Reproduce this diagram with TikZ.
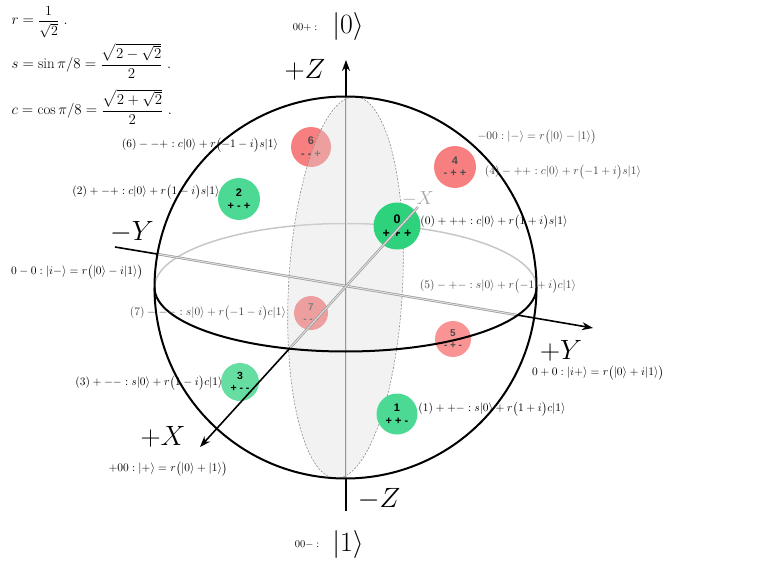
\RequirePackage{fix-cm}
\documentclass[tikz,border=0pt]{standalone}
\usepackage{amsmath}
\usepackage{fontspec}
\newfontfamily\markfont{Liberation Sans}
\usetikzlibrary{arrows.meta}
\usetikzlibrary{calc}

\definecolor{stGreenA}{RGB}{46,209,124}
\definecolor{stGreenB}{RGB}{76,217,148}
\definecolor{stGreenC}{RGB}{102,222,162}
\definecolor{stRedA}{RGB}{248,127,127}
\definecolor{stRedB}{RGB}{250,148,148}

\begin{document}
\begin{tikzpicture}[
        x=1bp, y=-1bp,
        state/.style={circle, inner sep=0, align=center},
        axisline/.style={line width=1.6bp, black},
        inaxis/.style={draw=black!40, double=black!12, double distance=1bp, line width=0.7bp},
        sphere/.style={line width=2bp, black},
        eqlabel/.style={font=\fontsize{11.5}{13}\selectfont, inner sep=1bp},
        axislabel/.style={font=\fontsize{28}{30}\selectfont, inner sep=0},
        >={Stealth[length=11bp, width=8bp]}
    ]
        \useasboundingbox (0,0) rectangle (765,572);

        % 球心与坐标轴端点
        \coordinate (O) at (345.5,287.5);
        \coordinate (Ztip) at (346,60);
        \coordinate (Ztop) at (346,96.5);
        \coordinate (Zbot) at (346,478.5);
        \coordinate (Zend) at (346,511);
        \coordinate (Yend) at (115,247);
        \coordinate (Yin) at (157,254);
        \coordinate (Yout) at (517,315);
        \coordinate (Ytip) at (593,328);
        \coordinate (Xback) at (418,207);
        \coordinate (Xout) at (290,348);
        \coordinate (Xtip) at (200,447);

        % 赤道后半圈
        \draw[black!22, line width=1.5bp] ($(O)+(-191,0)$) arc[start angle=180, end angle=360, x radius=191, y radius=64];

        % 定义态 (编号/x/y/半径/颜色/文字颜色/字号/符号)
        \def\backstates{
            6/311/147/20/stRedA/black!70/11/- - +,
            7/311/313/17/stRedA/black!70/10/- - -
        }
        \def\frontstates{
            0/397/226/23.5/stGreenA/black/12.5/+ + +,
            2/239/199/21/stGreenB/black/11/+ - +,
            4/455/167/21/stRedA/black!70/11/- + +,
            1/397/414/20.5/stGreenB/black/11/+ + -,
            3/240/382/19/stGreenC/black/10.5/+ - -,
            5/453/339/18/stRedB/black!70/10/- + -
        }

        % 后方的态
        \foreach \n/\x/\y/\r/\col/\tcol/\fs/\sg in \backstates {
            \node[state, fill=\col, text=\tcol, minimum size={2*\r*1bp},
                font=\markfont\bfseries\fontsize{\fs}{\fs}\selectfont] (s\n) at (\x,\y) {\n\\[1.5bp]\sg};
        }

        % XZ 平面(半透明)
        \fill[black!14, fill opacity=0.35, rotate around={-3:(O)}] (O) ellipse[x radius=57, y radius=191];
        \draw[black!45, line width=0.6bp, dash pattern=on 2bp off 1.5bp, rotate around={-3:(O)}] (O) ellipse[x radius=57, y radius=191];

        % 前方的态
        \foreach \n/\x/\y/\r/\col/\tcol/\fs/\sg in \frontstates {
            \node[state, fill=\col, text=\tcol, minimum size={2*\r*1bp},
                font=\markfont\bfseries\fontsize{\fs}{\fs}\selectfont] (s\n) at (\x,\y) {\n\\[1.5bp]\sg};
        }

        % 坐标轴
        \draw[inaxis] (Ztop) -- (Zbot);
        \draw[inaxis] (Yin) -- (Yout);
        \draw[inaxis] (Xback) -- (Xout);
        \draw[axisline, ->] (Ztop) -- (Ztip);
        \draw[axisline] (Zbot) -- (Zend);
        \draw[axisline] (Yend) -- (Yin);
        \draw[axisline, ->] (Yout) -- (Ytip);
        \draw[axisline, ->] (Xout) -- (Xtip);

        % 赤道前半圈与球面
        \draw[sphere] ($(O)+(191,0)$) arc[start angle=0, end angle=180, x radius=191, y radius=64];
        \draw[sphere] (O) circle[radius=191];

        % 轴标签
        \node[axislabel] (lZp) at (305,70) {$+Z$};
        \node[axislabel] (lZm) at (379,499) {$-Z$};
        \node[axislabel] (lYm) at (132,232) {$-Y$};
        \node[axislabel] (lYp) at (561,351) {$+Y$};
        \node[axislabel] (lXp) at (163,437) {$+X$};
        \node[font=\fontsize{19}{21}\selectfont, text=black!35, inner sep=0] (lXm) at (418,199) {$-X$};
        \node[axislabel] (ket0) at (348,27) {$|0\rangle$};
        \node[axislabel] (ket1) at (348,545) {$|1\rangle$};
        \node[font=\fontsize{10.5}{12}\selectfont] (k0) at (305,28) {$00+:$};
        \node[font=\fontsize{10.5}{12}\selectfont] (k1) at (307,545) {$00-:$};

        % 各态的表达式
        \foreach \nm/\x/\y/\tcol/\txt in {
            L6/200/145/black/{$(6) - -+ : c|0\rangle + r\bigl(-1 - i\bigr)s|1\rangle$},
            L2/146/192/black/{$(2) + -+ : c|0\rangle + r\bigl(1 - i\bigr)s|1\rangle$},
            L0/494/222/black/{$(0) + ++ : c|0\rangle + r\bigl(1 + i\bigr)s|1\rangle$},
            L4/563/172/black!75/{$(4) - ++ : c|0\rangle + r\bigl(-1 + i\bigr)s|1\rangle$},
            L7/208/313/black!75/{$(7) - -- : s|0\rangle + r\bigl(-1 - i\bigr)c|1\rangle$},
            L5/498/286/black!75/{$(5) - +- : s|0\rangle + r\bigl(-1 + i\bigr)c|1\rangle$},
            L3/149/383/black/{$(3) + -- : s|0\rangle + r\bigl(1 - i\bigr)c|1\rangle$},
            L1/492/409/black/{$(1) + +- : s|0\rangle + r\bigl(1 + i\bigr)c|1\rangle$},
            Lm/537/137/black!75/{$-00 : |-\rangle = r\bigl(|0\rangle - |1\rangle\bigr)$},
            Lim/77/272/black/{$0 - 0 : |i-\rangle = r\bigl(|0\rangle - i|1\rangle\bigr)$},
            Lip/598/373/black/{$0 + 0 : |i+\rangle = r\bigl(|0\rangle + i|1\rangle\bigr)$},
            Lp/168/469/black/{$+00 : |+\rangle = r\bigl(|0\rangle + |1\rangle\bigr)$}
        } {
            \node[eqlabel, text=\tcol] (\nm) at (\x,\y) {\txt};
        }

        % 常数
        \node[anchor=west, font=\fontsize{15}{17}\selectfont] (cr) at (8,22) {$r = {}$\fontsize{14}{15}\selectfont$\dfrac{1}{\sqrt{2}}$\fontsize{15}{17}\selectfont$\ .$};
        \node[anchor=west, font=\fontsize{15}{17}\selectfont] (cs) at (8,61) {$s = \sin\pi/8 = \dfrac{\sqrt{2-\sqrt{2}}}{2}\ .$};
        \node[anchor=west, font=\fontsize{15}{17}\selectfont] (cc) at (8,107) {$c = \cos\pi/8 = \dfrac{\sqrt{2+\sqrt{2}}}{2}\ .$};
    \end{tikzpicture}
\end{document}
